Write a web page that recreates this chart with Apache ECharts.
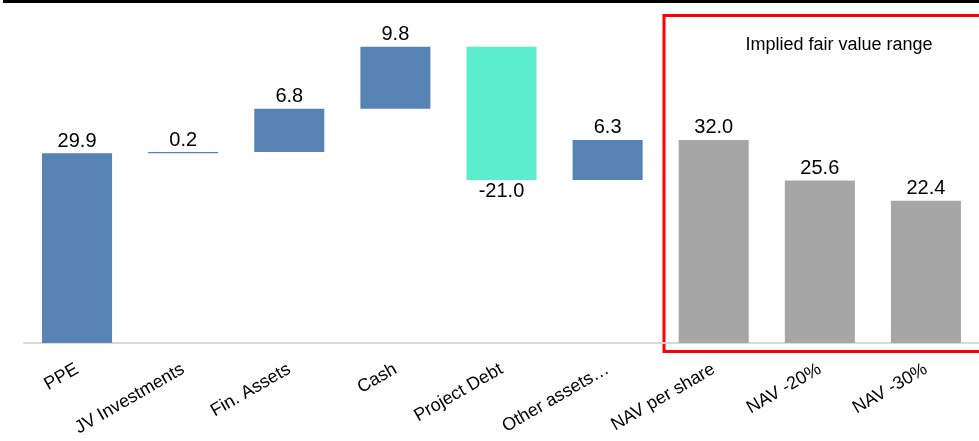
<!DOCTYPE html>
<html><head><meta charset="utf-8">
<script src="https://cdn.jsdelivr.net/npm/echarts@6/dist/echarts.min.js"></script>
<style>html,body{margin:0;padding:0;background:#fff}#c{width:979px;height:441px}</style>
</head><body><div id="c"></div>
<script>
var categories = ['PPE','JV Investments','Fin. Assets','Cash','Project Debt','Other assets\u2026','NAV per share','NAV -20%','NAV -30%'];
var values = [29.9, 0.2, 6.8, 9.8, -21.0, 6.3, 32.0, 25.6, 22.4];
var kinds = ['step','step','step','step','step','step','total','total','total'];
var boxTitle = 'Implied fair value range';

var BLUE = '#5682B4', TEAL = '#5CEDCE', GREY = '#A6A6A6';
var FONT = 'Liberation Sans, Arial, sans-serif';
var baseData = [], barData = [];
var run = 0;
for (var i = 0; i < values.length; i++) {
  var v = values[i];
  if (kinds[i] === 'total') {
    baseData.push(0);
    barData.push({value: v, label: {position: 'top'}, itemStyle: {color: GREY}});
  } else if (v >= 0) {
    baseData.push(run);
    barData.push({value: v, label: {position: 'top'}, itemStyle: {color: BLUE}});
    run += v;
  } else {
    run += v;
    baseData.push(run);
    barData.push({value: -v, raw: v, label: {position: 'bottom'}, itemStyle: {color: TEAL}});
  }
}

var chart = echarts.init(document.getElementById('c'));
chart.setOption({
  animation: false,
  grid: {left: 24, right: 0, top: 25.75, bottom: 98, containLabel: false},
  xAxis: {
    type: 'category', data: categories,
    axisLine: {lineStyle: {color: '#D9D9D9', width: 2}},
    axisTick: {show: false},
    axisLabel: {rotate: 30, interval: 0, margin: 25, color: '#000', fontSize: 18, fontFamily: FONT}
  },
  yAxis: {type: 'value', min: 0, max: 50, show: false, splitLine: {show: false}},
  series: [
    {type: 'bar', stack: 'w', data: baseData, itemStyle: {color: 'transparent'}, barWidth: '66%', silent: true},
    {type: 'bar', stack: 'w', data: barData, barWidth: '66%',
     label: {show: true, color: '#000', fontSize: 20, fontFamily: FONT, distance: 2,
       formatter: function (p) { var d = p.data; var val = d.raw !== undefined ? d.raw : d.value; return val.toFixed(1); }}}
  ],
  graphic: [
    {type: 'rect', shape: {x: 3, y: 0, width: 976, height: 3}, style: {fill: '#000'}},
    {type: 'rect', shape: {x: 664, y: 15.5, width: 330, height: 336}, style: {fill: 'none', stroke: '#FF0000', lineWidth: 3}},
    {type: 'text', x: 839, y: 45, style: {text: boxTitle, fill: '#000', font: '18px "Liberation Sans", Arial, sans-serif', textAlign: 'center', textVerticalAlign: 'middle'}}
  ]
});
</script></body></html>
